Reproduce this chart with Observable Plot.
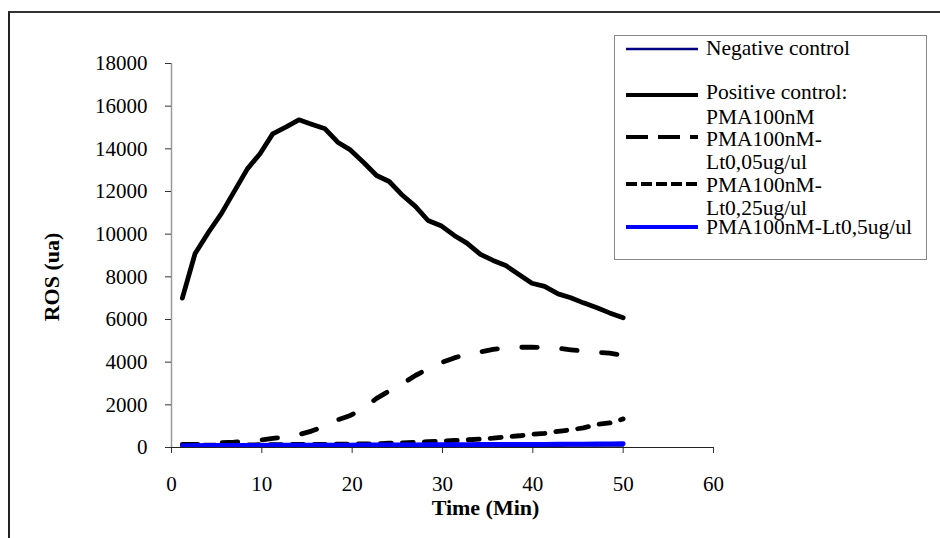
<!DOCTYPE html>
<html>
<head>
<meta charset="utf-8">
<script src="https://cdn.jsdelivr.net/npm/d3@7"></script>
<script src="https://cdn.jsdelivr.net/npm/@observablehq/plot@0.6"></script>
<style>
  html, body { margin: 0; padding: 0; background: #fff; }
  #wrap { position: relative; width: 940px; height: 538px; overflow: hidden; background: #fff; }
  #frame { position: absolute; left: 8px; top: 11px; width: 960px; height: 560px;
           border-left: 2.5px solid #222; border-top: 2px solid #333; pointer-events: none; }
  #chart { position: absolute; left: 0; top: 0; }
  #ytitle { position: absolute; left: 52px; top: 277px; transform: translate(-50%, -50%) rotate(-90deg);
            font-family: 'Liberation Serif', 'Times New Roman', serif; font-weight: bold; font-size: 22px;
            white-space: nowrap; line-height: 1; }
  #legend { position: absolute; left: 614px; top: 35px; width: 313px; height: 225px;
            border: 1.5px solid #888; background: #fff; box-sizing: border-box; }
  #legend svg { position: absolute; left: 0; top: 0; }
</style>
</head>
<body>
<div id="wrap">
  <div id="chart"></div>
  <div id="frame"></div>
  <div id="ytitle"></div>
  <div id="legend"></div>
</div>
<script>
// ---- data ----
const times = [1.2, 2.6, 4.1, 5.5, 6.9, 8.4, 9.8, 11.2, 12.7, 14.1, 15.5, 17.0, 18.4, 19.8, 21.3, 22.7, 24.1, 25.6,
               27.0, 28.4, 29.9, 31.3, 32.7, 34.2, 35.6, 37.0, 38.5, 39.9, 41.3, 42.8, 44.2, 45.6, 47.1, 48.5, 50.0];

const negativeControl = [40, 40, 45, 45, 45, 50, 50, 50, 50, 55, 55, 55, 55, 60, 60, 60, 60, 60,
                         65, 65, 65, 65, 70, 70, 70, 70, 75, 75, 75, 75, 80, 80, 80, 85, 85];

const positiveControl = [7000, 9080, 10090, 10950, 11970, 13060, 13770, 14700, 15030, 15360, 15150, 14940, 14310,
                         13950, 13350, 12750, 12470, 11810, 11300, 10640, 10380, 9940, 9580, 9050, 8770, 8530,
                         8100, 7700, 7550, 7200, 7020, 6780, 6550, 6310, 6080];

const lt005 = [140, 140, 160, 230, 250, 290, 340, 430, 500, 600, 770, 1000, 1300, 1500, 1850, 2300, 2650, 3000,
               3375, 3680, 3980, 4200, 4380, 4480, 4600, 4680, 4700, 4700, 4690, 4650, 4580, 4520, 4460, 4420, 4320];

const lt025 = [100, 100, 110, 110, 120, 120, 130, 130, 140, 140, 150, 150, 160, 160, 170, 180, 200, 220,
               240, 270, 300, 330, 360, 400, 440, 500, 550, 620, 660, 760, 830, 920, 1080, 1150, 1340];

const lt05 = [90, 90, 95, 95, 100, 100, 100, 105, 105, 110, 110, 110, 115, 115, 120, 120, 120, 125,
              125, 130, 130, 135, 135, 140, 140, 145, 145, 150, 150, 155, 160, 160, 165, 170, 175];

const xTicks = [0, 10, 20, 30, 40, 50, 60];
const yTicks = [0, 2000, 4000, 6000, 8000, 10000, 12000, 14000, 16000, 18000];

const seriesNames = ["Negative control", "Positive control: PMA100nM", "PMA100nM-Lt0,05ug/ul",
                     "PMA100nM-Lt0,25ug/ul", "PMA100nM-Lt0,5ug/ul"];
const legendLines = [["Negative control"], ["Positive control:", "PMA100nM"], ["PMA100nM-", "Lt0,05ug/ul"],
                     ["PMA100nM-", "Lt0,25ug/ul"], ["PMA100nM-Lt0,5ug/ul"]];
const xTitle = "Time (Min)";
const yTitle = "ROS (ua)";

// ---- styles ----
const styles = [
  {stroke: "#000080", strokeWidth: 2, dash: null},
  {stroke: "#000000", strokeWidth: 4.8, dash: null},
  {stroke: "#000000", strokeWidth: 4.8, dash: "15.5 24.5"},
  {stroke: "#000000", strokeWidth: 4.8, dash: "11 11"},
  {stroke: "#0000ff", strokeWidth: 4.8, dash: null}
];

const seriesValues = [negativeControl, positiveControl, lt005, lt025, lt05];
const lineMarks = seriesValues.map((vals, i) => {
  const data = times.map((t, j) => ({t, v: vals[j], s: seriesNames[i]}));
  return Plot.line(data, {
    x: "t", y: "v",
    stroke: styles[i].stroke, strokeWidth: styles[i].strokeWidth,
    strokeDasharray: styles[i].dash || undefined,
    strokeLinecap: "round", strokeLinejoin: "round"
  });
});

const chart = Plot.plot({
  width: 940, height: 538,
  marginLeft: 171, marginRight: 227, marginTop: 63, marginBottom: 91,
  style: {fontFamily: "'Liberation Serif', 'Times New Roman', serif", fontSize: "21px", color: "#000", background: "transparent"},
  x: {domain: [0, 60]},
  y: {domain: [0, 18000]},
  marks: [
    Plot.ruleX([0], {stroke: "#9a9a9a", strokeWidth: 1.5}),
    Plot.axisY({ticks: yTicks, tickSize: 6, tickPadding: 18, tickFormat: d => String(d), label: null,
                stroke: "#333", fontSize: 21}),
    Plot.axisX({ticks: xTicks, tickSize: 6, tickPadding: 23, tickFormat: d => String(d), label: null,
                stroke: "#333", fontSize: 21}),
    ...lineMarks,
    Plot.ruleY([0], {stroke: "#222", strokeWidth: 1}),
    Plot.text([xTitle], {frameAnchor: "bottom", dx: 43, dy: 67, fontWeight: "bold", fontSize: 22, text: d => d})
  ]
});
document.getElementById("chart").appendChild(chart);
document.getElementById("ytitle").textContent = yTitle;

// ---- legend ----
const ns = "http://www.w3.org/2000/svg";
const lg = document.createElementNS(ns, "svg");
lg.setAttribute("width", 313); lg.setAttribute("height", 225);
const lineY = [13, 59, 101, 148, 191];
const textY = [[19, null], [63, 88], [110, 133], [156, 179], [198, null]];
const legendDash = [null, null, "22 10", "11 4", null];
legendLines.forEach((lines, i) => {
  const l = document.createElementNS(ns, "line");
  l.setAttribute("x1", 11); l.setAttribute("x2", 83);
  l.setAttribute("y1", lineY[i]); l.setAttribute("y2", lineY[i]);
  l.setAttribute("stroke", styles[i].stroke);
  l.setAttribute("stroke-width", i === 0 ? 2.5 : 4);
  if (legendDash[i]) l.setAttribute("stroke-dasharray", legendDash[i]);
  lg.appendChild(l);
  lines.forEach((txt, k) => {
    const t = document.createElementNS(ns, "text");
    t.setAttribute("x", 91);
    t.setAttribute("y", textY[i][k]);
    t.setAttribute("font-family", "'Liberation Serif', 'Times New Roman', serif");
    t.setAttribute("font-size", 21.5);
    t.textContent = txt;
    lg.appendChild(t);
  });
});
document.getElementById("legend").appendChild(lg);
</script>
</body>
</html>
